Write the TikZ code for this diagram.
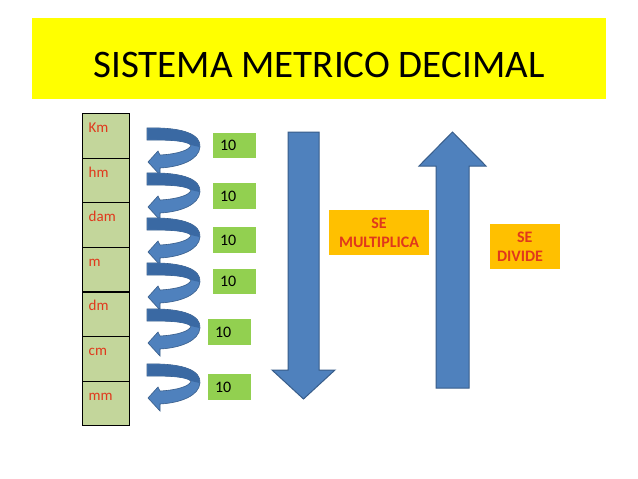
\documentclass[tikz,border=0pt]{standalone}
\usepackage{fontspec}
\setmainfont{Carlito}
\definecolor{banner}{HTML}{FFFF00}
\definecolor{cellgreen}{HTML}{C3D69B}
\definecolor{tengreen}{HTML}{92D050}
\definecolor{orangebox}{HTML}{FFC000}
\definecolor{blueA}{HTML}{4F81BD}
\definecolor{blueB}{HTML}{3A69A3}
\definecolor{blueline}{HTML}{385D8A}
\definecolor{redtxt}{HTML}{E0381C}
\tikzset{
  cellbox/.style={draw=black, line width=1.1pt, fill=cellgreen, minimum width=47pt, minimum height=44.6pt, anchor=north west, inner sep=0pt},
  unitlbl/.style={text=redtxt, font=\fontsize{15}{17}\selectfont, anchor=base west, inner sep=0pt},
  tenbox/.style={fill=tengreen, minimum height=25.5pt, inner xsep=7pt, text width=29pt, align=left, font=\fontsize{16}{18}\selectfont},
  opbox/.style={fill=orangebox, minimum height=45pt, inner sep=0pt},
  optxt/.style={text=redtxt, font=\bfseries\fontsize{16}{19}\selectfont, inner sep=0pt},
  bigarrow/.style={fill=blueA, draw=blueline, line width=1pt, line join=miter},
  uturn/.pic={
    \fill[blueA, draw=blueline, line width=0.6pt] (-1,0) .. controls (37,-1) and (53,7) .. (52,19)
      .. controls (51,32) and (32,39) .. (12,40) -- (12,47) -- (0,34) -- (10,23) -- (12,27)
      .. controls (30,26) and (42,22) .. (43,17) .. controls (37,12) and (17,12) .. (-1,12) -- cycle;
    \fill[blueB] (-0.5,0.5) .. controls (37,-0.5) and (52.5,7) .. (51.5,19) -- (43,17)
      .. controls (37,12) and (17,12) .. (-0.5,11.5) -- cycle;
  }
}
\begin{document}
\begin{tikzpicture}[x=1pt,y=-1pt]
\path[use as bounding box, fill=white] (0,0) rectangle (638,479);
% banner
\fill[banner] (32,18) rectangle (606,99);
\node[anchor=base, inner sep=0pt, font=\fontsize{39}{44}\selectfont] (title) at (319,77) {SISTEMA METRICO DECIMAL};
% table
\node[cellbox] (c1) at (82,113) {};
\node[cellbox] (c2) at (82,157.6) {};
\node[cellbox] (c3) at (82,202.2) {};
\node[cellbox] (c4) at (82,246.8) {};
\node[cellbox] (c5) at (82,291.4) {};
\node[cellbox] (c6) at (82,336) {};
\node[cellbox] (c7) at (82,380.6) {};
\node[unitlbl] (l1) at ([xshift=6.5pt,yshift=-19.5pt]c1.north west) {Km};
\node[unitlbl] (l2) at ([xshift=6.5pt,yshift=-19.5pt]c2.north west) {hm};
\node[unitlbl] (l3) at ([xshift=6.5pt,yshift=-19.5pt]c3.north west) {dam};
\node[unitlbl] (l4) at ([xshift=6.5pt,yshift=-19.5pt]c4.north west) {m};
\node[unitlbl] (l5) at ([xshift=6.5pt,yshift=-19.5pt]c5.north west) {dm};
\node[unitlbl] (l6) at ([xshift=6.5pt,yshift=-19.5pt]c6.north west) {cm};
\node[unitlbl] (l7) at ([xshift=6.5pt,yshift=-19.5pt]c7.north west) {mm};
% curved arrows
\pic at (148,128) {uturn};
\pic at (148,173) {uturn};
\pic at (148,218) {uturn};
\pic at (148,263) {uturn};
\pic at (148,309) {uturn};
\pic at (148,364) {uturn};
% ten boxes
\node[tenbox] (t1) at (234.5,145.5) {10};
\node[tenbox] (t2) at (234.5,196) {10};
\node[tenbox] (t3) at (234.5,240) {10};
\node[tenbox] (t4) at (234.5,281.5) {10};
\node[tenbox] (t5) at (229.5,332) {10};
\node[tenbox] (t6) at (229.5,387) {10};
% big arrows
\draw[bigarrow] (288,132) -- (319,132) -- (319,370) -- (335,370) -- (303.5,399) -- (272,370) -- (288,370) -- cycle;
\draw[bigarrow] (436,388) -- (469,388) -- (469,166) -- (486,166) -- (452.5,132) -- (419,166) -- (436,166) -- cycle;
% operation boxes
\node[opbox, minimum width=100pt] (mul) at (379,232.5) {};
\node[optxt, align=center] (multxt) at (mul.center) {SE\\MULTIPLICA};
\node[opbox, minimum width=70pt] (div) at (525,246.5) {};
\node[optxt, align=left, anchor=west] (divtxt) at ([xshift=7pt]div.west) {\hspace*{20pt}SE\\DIVIDE};
\end{tikzpicture}
\end{document}
